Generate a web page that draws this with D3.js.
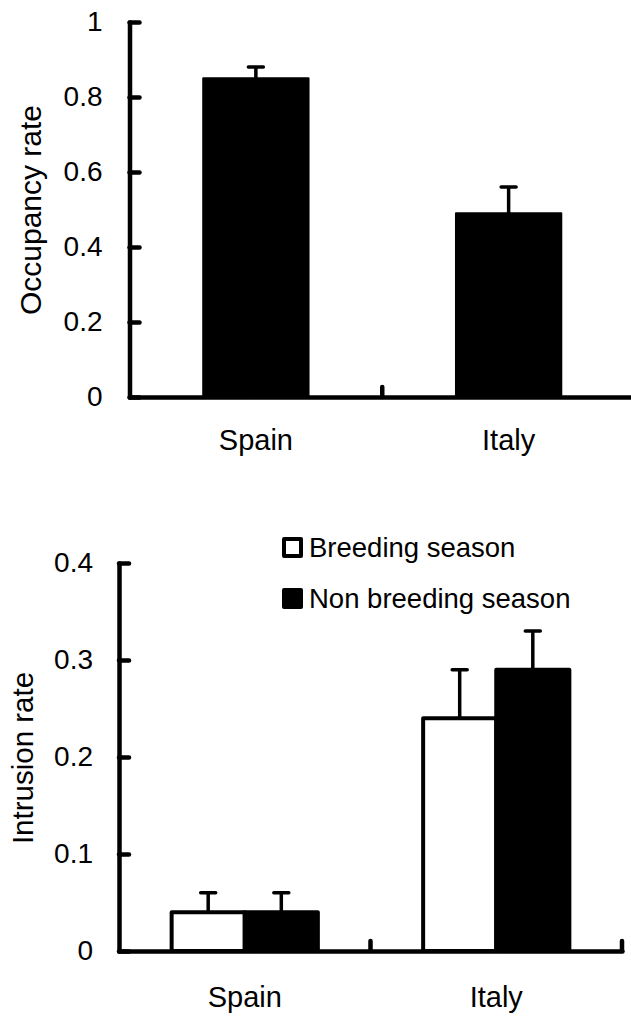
<!DOCTYPE html>
<html>
<head>
<meta charset="utf-8">
<script src="https://cdn.jsdelivr.net/npm/d3@7"></script>
<style>
  html, body { margin: 0; padding: 0; background: #fff; }
  svg { display: block; }
  text { font-family: "Liberation Sans", Arial, sans-serif; fill: #000; }
</style>
</head>
<body>
<svg id="chart" width="631" height="1019"></svg>
<script>
// ---------- Data ----------
const categories = ["Spain", "Italy"];

// Top panel: occupancy rate
const occupancyValues = [0.85, 0.49];
const occupancyErrors = [0.03, 0.07];
const occupancyTicks = [0, 0.2, 0.4, 0.6, 0.8, 1];
const occupancyTickLabels = ["0", "0.2", "0.4", "0.6", "0.8", "1"];

// Bottom panel: intrusion rate
const seasons = ["Breeding season", "Non breeding season"];
const breedingValues = [0.04, 0.24];
const breedingErrors = [0.02, 0.05];
const nonBreedingValues = [0.04, 0.29];
const nonBreedingErrors = [0.02, 0.04];
const intrusionTicks = [0, 0.1, 0.2, 0.3, 0.4];
const intrusionTickLabels = ["0", "0.1", "0.2", "0.3", "0.4"];

const svg = d3.select("#chart");
const AXW = 4.5;

function drawYAxis(g, y, ticks, labels, pad) {
  const ax = d3.axisLeft(y)
    .tickValues(ticks)
    .tickFormat((d, i) => labels[i])
    .tickSizeInner(-10)
    .tickSizeOuter(0)
    .tickPadding(pad);
  const a = g.append("g").call(ax);
  a.select(".domain").attr("stroke", "#000").attr("stroke-width", AXW).attr("stroke-linecap", "round");
  a.selectAll(".tick line").attr("stroke", "#000").attr("stroke-width", AXW).attr("stroke-linecap", "round");
  a.selectAll(".tick text").style("font-size", "28px").attr("font-family", null);
  return a;
}

function drawXAxis(g, x, yPos, pad, boundaries) {
  const ax = d3.axisBottom(x).tickSize(0).tickSizeOuter(0).tickPadding(pad);
  const a = g.append("g").attr("transform", `translate(0,${yPos})`).call(ax);
  a.select(".domain").attr("stroke", "#000").attr("stroke-width", AXW).attr("stroke-linecap", "round");
  a.selectAll(".tick text").style("font-size", "29px").attr("font-family", null);
  a.selectAll(".bound").data(boundaries).enter().append("line")
    .attr("x1", d => d).attr("x2", d => d)
    .attr("y1", 0).attr("y2", -10)
    .attr("stroke", "#000").attr("stroke-width", AXW).attr("stroke-linecap", "round");
  return a;
}

function errorBar(g, cx, yTop, yEnd, capW, sw) {
  g.append("line").attr("x1", cx).attr("x2", cx).attr("y1", yTop).attr("y2", yEnd)
    .attr("stroke", "#000").attr("stroke-width", sw);
  g.append("line").attr("x1", cx - capW / 2).attr("x2", cx + capW / 2).attr("y1", yEnd).attr("y2", yEnd)
    .attr("stroke", "#000").attr("stroke-width", sw).attr("stroke-linecap", "round");
}

// ---------- Top panel ----------
{
  const g = svg.append("g");
  const x = d3.scaleBand().domain(categories).range([129.5, 635]).paddingInner(0).paddingOuter(0);
  const xb = d3.scaleBand().domain(["v"]).range([0, x.bandwidth()]).paddingOuter(0.7);
  const y = d3.scaleLinear().domain([0, 1]).range([397, 22]);

  categories.forEach((c, i) => {
    const x0 = x(c) + xb("v");
    const w = xb.bandwidth();
    errorBar(g, x0 + w / 2, y(occupancyValues[i]), y(occupancyValues[i] + occupancyErrors[i]), 15, 3.5);
    g.append("rect")
      .attr("x", x0).attr("y", y(occupancyValues[i]))
      .attr("width", w).attr("height", y(0) - y(occupancyValues[i]))
      .attr("fill", "#000").attr("stroke", "#000").attr("stroke-width", 2).attr("stroke-linejoin", "round");
  });

  drawYAxis(g.append("g").attr("transform", `translate(129.5,0)`), y, occupancyTicks, occupancyTickLabels, 27);
  const bounds = categories.slice(1).map(c => x(c)).concat([x.range()[1]]);
  drawXAxis(g, x, 397, 32, bounds);

  g.append("text")
    .attr("transform", `translate(41,210) rotate(-90)`)
    .attr("text-anchor", "middle")
    .style("font-size", "30px")
    .text("Occupancy rate");
}

// ---------- Bottom panel ----------
{
  const g = svg.append("g");
  const x = d3.scaleBand().domain(categories).range([119, 622]).paddingInner(0).paddingOuter(0);
  const xs = d3.scaleBand().domain(seasons).range([0, x.bandwidth()]).paddingInner(0).paddingOuter(0.72);
  const y = d3.scaleLinear().domain([0, 0.4]).range([951, 563]);

  const series = [
    { name: seasons[0], values: breedingValues, errors: breedingErrors, fill: "#fff" },
    { name: seasons[1], values: nonBreedingValues, errors: nonBreedingErrors, fill: "#000" }
  ];

  categories.forEach((c, i) => {
    series.forEach(s => {
      const x0 = x(c) + xs(s.name);
      const w = xs.bandwidth();
      errorBar(g, x0 + w / 2, y(s.values[i]), y(s.values[i] + s.errors[i]), 15, 3.5);
    });
    series.forEach(s => {
      const x0 = x(c) + xs(s.name);
      const w = xs.bandwidth();
      g.append("rect")
        .attr("x", x0).attr("y", y(s.values[i]))
        .attr("width", w).attr("height", y(0) - y(s.values[i]))
        .attr("fill", s.fill).attr("stroke", "#000").attr("stroke-width", 4).attr("stroke-linejoin", "round");
    });
  });

  drawYAxis(g.append("g").attr("transform", `translate(119,0)`), y, intrusionTicks, intrusionTickLabels, 26);
  const bounds = categories.slice(1).map(c => x(c)).concat([x.range()[1]]);
  drawXAxis(g, x, 951, 35, bounds);

  g.append("text")
    .attr("transform", `translate(33,758) rotate(-90)`)
    .attr("text-anchor", "middle")
    .style("font-size", "29.5px")
    .text("Intrusion rate");

  // Legend
  const leg = g.append("g");
  series.forEach((s, i) => {
    const yy = 539 + i * 51;
    leg.append("rect").attr("x", 284).attr("y", yy).attr("width", 17).attr("height", 17)
      .attr("fill", s.fill).attr("stroke", "#000").attr("stroke-width", 4).attr("stroke-linejoin", "round");
    leg.append("text").attr("x", 309).attr("y", yy + 18).style("font-size", "27.5px").text(s.name);
  });
}
</script>
</body>
</html>
